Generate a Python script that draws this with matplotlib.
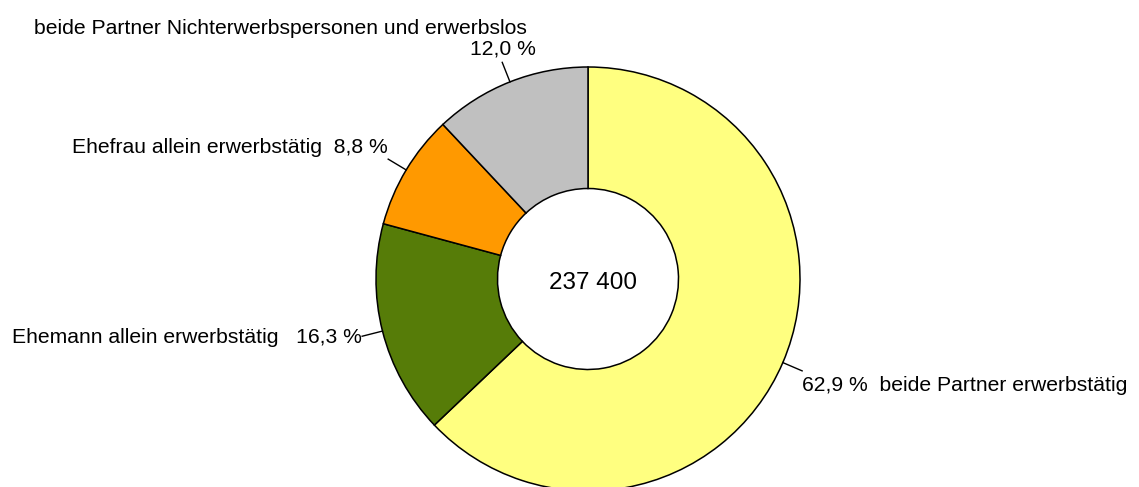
import numpy as np
import matplotlib
matplotlib.use('Agg')
import matplotlib.pyplot as plt

plt.rcParams['font.family'] = ['Liberation Sans', 'DejaVu Sans']

# Daten
kategorien = ['beide Partner erwerbstätig', 'Ehemann allein erwerbstätig',
              'Ehefrau allein erwerbstätig',
              'beide Partner Nichterwerbspersonen und erwerbslos']
anteile = [62.9, 16.3, 8.8, 12.0]
farben = ['#FFFF80', '#567C08', '#FF9900', '#C0C0C0']
gesamt = '237 400'

W, H = 1139, 487
cx, cy = 588, H - 279     # Mittelpunkt in Pixeln (y nach oben)
R_aussen = 212
ring = 121.5

fig = plt.figure(figsize=(W / 100, H / 100), dpi=100)
ax = fig.add_axes([0, 0, 1, 1])

wedges, _ = ax.pie(anteile, colors=farben, startangle=90, counterclock=False,
                   radius=R_aussen, center=(cx, cy),
                   wedgeprops=dict(width=ring, edgecolor='black', linewidth=1.1))
ax.set_xlim(0, W)
ax.set_ylim(0, H)
ax.set_aspect('equal')
ax.axis('off')

ax.text(cx + 5, cy - 4, gesamt, ha='center', va='center', fontsize=17.5)

# Beschriftungen mit radialen Hinweislinien
fs = 15.2
def fuehrung(w, laenge=21):
    ang = np.deg2rad((w.theta1 + w.theta2) / 2)
    x0 = cx + R_aussen * np.cos(ang)
    y0 = cy + R_aussen * np.sin(ang)
    x1 = cx + (R_aussen + laenge) * np.cos(ang)
    y1 = cy + (R_aussen + laenge) * np.sin(ang)
    ax.plot([x0, x1], [y0, y1], color='black', lw=1.0)
    return x1, y1

def fmt(v):
    return f'{v:.1f}'.replace('.', ',') + ' %'

# 62,9 %
x1, y1 = fuehrung(wedges[0])
ax.text(x1, y1 - 15, fmt(anteile[0]) + '  ' + kategorien[0],
        ha='left', va='center', fontsize=fs)
# 16,3 %
x1, y1 = fuehrung(wedges[1])
ax.text(x1, y1 - 1, kategorien[1] + '   ' + fmt(anteile[1]),
        ha='right', va='center', fontsize=fs)
# 8,8 %
x1, y1 = fuehrung(wedges[2])
ax.text(x1, y1 + 12, kategorien[2] + '  ' + fmt(anteile[2]),
        ha='right', va='center', fontsize=fs)
# 12,0 %
x1, y1 = fuehrung(wedges[3])
ax.text(x1 + 1, y1 + 13, fmt(anteile[3]), ha='center', va='center', fontsize=fs)
ax.text(34, H - 29, kategorien[3], ha='left', va='center', fontsize=fs)

fig.savefig('out.png', dpi=100, facecolor='white')
